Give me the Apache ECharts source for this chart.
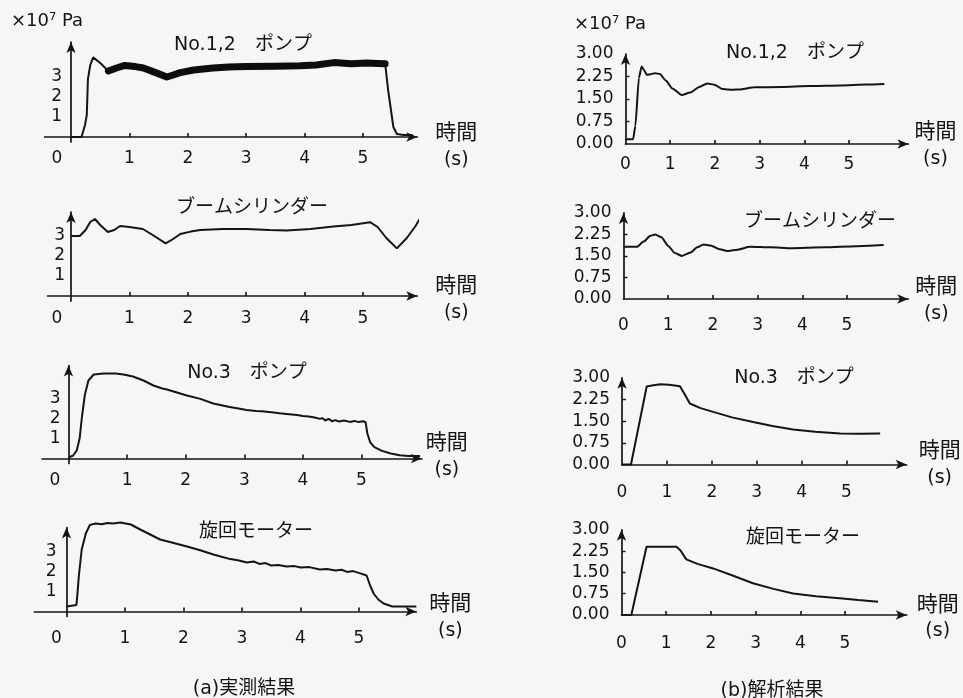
<!DOCTYPE html>
<html><head><meta charset="utf-8">
<script src="https://cdn.jsdelivr.net/npm/echarts@6/dist/echarts.min.js"></script>
<style>html,body{margin:0;padding:0;background:#f6f6f4}#c{width:963px;height:698px}</style>
</head><body><div id="c"></div>
<script>
// ---------------- data ----------------
// (a) measured results: time (s), pressure (x10^7 Pa)
const measPump12T = [0, 0.18, 0.24, 0.27, 0.29, 0.33, 0.38, 0.5, 0.64, 0.78, 0.92, 1.1, 1.24, 1.45, 1.64, 1.75, 1.87, 2.1, 2.43, 2.7, 3.0, 3.5, 3.92, 4.2, 4.5, 4.8, 5.06, 5.25, 5.38, 5.43, 5.52, 5.58, 5.7, 5.85];
const measPump12V = [0, 0, 0.6, 1.1, 2.9, 3.6, 3.98, 3.7, 3.3, 3.45, 3.58, 3.52, 3.45, 3.22, 3.0, 3.1, 3.22, 3.35, 3.45, 3.5, 3.52, 3.54, 3.56, 3.6, 3.72, 3.66, 3.7, 3.68, 3.66, 2.35, 0.5, 0.15, 0.1, 0.1];
const measBoomT = [0, 0.15, 0.25, 0.33, 0.41, 0.5, 0.63, 0.74, 0.84, 1.0, 1.23, 1.4, 1.62, 1.75, 1.87, 2.05, 2.21, 2.6, 3.0, 3.4, 3.69, 4.1, 4.49, 4.8, 5.12, 5.25, 5.4, 5.58, 5.75, 5.9, 6.0];
const measBoomV = [3.0, 3.0, 3.3, 3.7, 3.85, 3.55, 3.2, 3.3, 3.5, 3.45, 3.35, 3.05, 2.63, 2.85, 3.1, 3.22, 3.3, 3.35, 3.35, 3.3, 3.27, 3.35, 3.47, 3.55, 3.69, 3.45, 2.9, 2.38, 2.9, 3.5, 4.0];
const measPump3T = [0, 0.08, 0.14, 0.19, 0.23, 0.28, 0.34, 0.43, 0.6, 0.8, 0.94, 1.1, 1.28, 1.45, 1.6, 1.68, 1.85, 2.02, 2.25, 2.47, 2.75, 2.9, 3.04, 3.2, 3.3, 3.5, 3.6, 3.72, 3.9, 4.0, 4.1, 4.2, 4.29, 4.33, 4.38, 4.44, 4.5, 4.55, 4.62, 4.7, 4.8, 4.88, 4.95, 5.03, 5.07, 5.1, 5.15, 5.22, 5.35, 5.5, 5.65, 5.8, 6.0];
const measPump3V = [0.05, 0.15, 0.4, 1.0, 2.1, 3.2, 3.9, 4.2, 4.25, 4.25, 4.2, 4.1, 3.9, 3.65, 3.5, 3.45, 3.3, 3.15, 2.98, 2.75, 2.57, 2.5, 2.42, 2.38, 2.36, 2.3, 2.26, 2.23, 2.17, 2.12, 2.1, 2.05, 1.98, 2.02, 1.9, 1.98, 1.86, 1.92, 1.85, 1.9, 1.83, 1.88, 1.82, 1.86, 1.82, 1.25, 0.8, 0.57, 0.38, 0.25, 0.16, 0.12, 0.12];
const measSwingT = [0, 0.17, 0.19, 0.21, 0.26, 0.33, 0.4, 0.5, 0.6, 0.7, 0.8, 0.92, 1.1, 1.26, 1.43, 1.6, 1.8, 2.06, 2.3, 2.51, 2.8, 2.95, 3.08, 3.2, 3.3, 3.4, 3.5, 3.62, 3.76, 3.9, 4.0, 4.15, 4.33, 4.45, 4.6, 4.7, 4.8, 4.9, 5.01, 5.13, 5.19, 5.25, 5.33, 5.42, 5.57, 5.75, 5.98];
const measSwingV = [0.25, 0.33, 1.0, 1.75, 3.1, 3.9, 4.33, 4.4, 4.36, 4.42, 4.4, 4.45, 4.35, 4.1, 3.85, 3.6, 3.45, 3.25, 3.05, 2.85, 2.62, 2.55, 2.45, 2.5, 2.38, 2.42, 2.3, 2.33, 2.25, 2.27, 2.2, 2.22, 2.1, 2.13, 2.05, 2.09, 1.98, 2.02, 1.92, 1.8, 1.3, 0.9, 0.6, 0.4, 0.25, 0.25, 0.25];
// (b) analysis results
const simPump12T = [0, 0.17, 0.22, 0.3, 0.36, 0.42, 0.48, 0.58, 0.66, 0.77, 0.9, 1.05, 1.26, 1.45, 1.65, 1.83, 2.0, 2.17, 2.4, 2.58, 2.88, 3.5, 4.1, 4.8, 5.4, 5.79];
const simPump12V = [0.16, 0.16, 0.6, 2.2, 2.58, 2.45, 2.3, 2.33, 2.36, 2.33, 2.12, 1.85, 1.63, 1.72, 1.9, 2.02, 1.97, 1.83, 1.81, 1.82, 1.89, 1.9, 1.93, 1.95, 1.98, 2.0];
const simBoomT = [0, 0.3, 0.45, 0.6, 0.71, 0.85, 1.0, 1.15, 1.31, 1.5, 1.65, 1.79, 1.95, 2.15, 2.35, 2.55, 2.83, 3.3, 3.73, 4.5, 5.2, 5.82];
const simBoomV = [1.82, 1.82, 2.0, 2.2, 2.25, 2.15, 1.85, 1.6, 1.5, 1.62, 1.8, 1.9, 1.86, 1.73, 1.67, 1.72, 1.82, 1.8, 1.77, 1.8, 1.84, 1.88];
const simPump3T = [0, 0.2, 0.55, 0.7, 0.85, 1.05, 1.29, 1.4, 1.51, 1.75, 2.03, 2.45, 2.92, 3.35, 3.81, 4.3, 4.86, 5.3, 5.75];
const simPump3V = [0, 0, 2.7, 2.74, 2.78, 2.76, 2.71, 2.42, 2.11, 1.95, 1.82, 1.63, 1.47, 1.33, 1.21, 1.13, 1.07, 1.06, 1.07];
const simSwingT = [0, 0.22, 0.56, 0.9, 1.23, 1.32, 1.45, 1.7, 2.05, 2.5, 2.94, 3.4, 3.84, 4.35, 4.88, 5.3, 5.74];
const simSwingV = [0, 0, 2.4, 2.4, 2.4, 2.27, 1.96, 1.8, 1.64, 1.38, 1.12, 0.92, 0.76, 0.66, 0.59, 0.53, 0.47];

// thick (oscillating) band of the measured No.1,2 pump trace
const bandStart = 0.6, bandEnd = 5.4;

// ticks / labels / texts
const xTickValues = [1, 2, 3, 4, 5];
const xLabelValues = [0, 1, 2, 3, 4, 5];
const leftYLabels = [1, 2, 3];
const rightYLabels = [0, 0.75, 1.5, 2.25, 3];
const rightYTicks = [0.75, 1.5, 2.25];
const panelTitles = ['No.1,2\u3000ポンプ', 'ブームシリンダー', 'No.3\u3000ポンプ', '旋回モーター'];
const unitLabel = '×10⁷ Pa';
const axisNameTop = '時間', axisNameBottom = '(s)';
const captions = ['(a)実測結果', '(b)解析結果'];

// ---------------- layout ----------------
const FONT = "'DejaVu Sans', 'Noto Sans CJK JP', sans-serif";
const INK = '#141414';
// x0,y0: origin px; sx,sy: px per unit; gap/shift: axis-name offsets; zero: left shift of "0";
// xlm: x-label centre below axis; ylm: gap label->axis; yls: y-label vertical shift; tx,ty: title
const layout = [
  {x0:71,   y0:137,   sx:58.4, sy:20,   xmin:-0.45, xmax:5.93, ymin:-0.25, ymax:4.75, gap:17, shift:10,  zero:14,   xlm:19.5, ylm:9,  yls:0, tx:243, ty:45,  smooth:false},
  {x0:71,   y0:296,   sx:58.4, sy:20,   xmin:-0.4,  xmax:5.93, ymin:-0.25, ymax:4.2,  gap:17, shift:4,   zero:14,   xlm:20.5, ylm:6,  yls:2, tx:252, ty:208, smooth:false},
  {x0:68.5, y0:458.5, sx:58.6, sy:20,   xmin:-0.45, xmax:6.03, ymin:-0.25, ymax:4.65, gap:3,  shift:-1.5,zero:13.5, xlm:20,   ylm:8,  yls:3, tx:247, ty:373, smooth:false},
  {x0:66.5, y0:611.5, sx:58.5, sy:20,   xmin:-0.55, xmax:5.98, ymin:-0.25, ymax:4.2,  gap:12, shift:6.5, zero:10,   xlm:25,   ylm:10, yls:5, tx:256, ty:532, smooth:false},
  {x0:625.5,y0:144,   sx:44.7, sy:30,   xmin:0, xmax:6.33, ymin:0, ymax:3, gap:5,  shift:2,   zero:0, xlm:19, ylm:12, yls:0, tx:795, ty:53,  smooth:0.2},
  {x0:623.5,y0:299,   sx:44.7, sy:28.7, xmin:0, xmax:6.37, ymin:0, ymax:3, gap:6,  shift:2,   zero:0, xlm:25, ylm:12, yls:5, tx:820, ty:222, smooth:0.2},
  {x0:622,  y0:464.5, sx:44.9, sy:28.9, xmin:0, xmax:6.34, ymin:0, ymax:3, gap:11, shift:0.5, zero:0, xlm:26, ylm:12, yls:0, tx:794, ty:378, smooth:false},
  {x0:621.5,y0:615,   sx:44.7, sy:28.4, xmin:0, xmax:6.38, ymin:0, ymax:3, gap:9,  shift:3.5, zero:0, xlm:27, ylm:12, yls:1, tx:803, ty:538, smooth:false}
];
const traces = [
  [measPump12T, measPump12V], [measBoomT, measBoomV], [measPump3T, measPump3V], [measSwingT, measSwingV],
  [simPump12T, simPump12V], [simBoomT, simBoomV], [simPump3T, simPump3V], [simSwingT, simSwingV]
];
const zip = (a, b) => a.map((t, k) => [t, b[k]]);
const pad = d => d >= 0 ? [2 * d, 0, 0, 0] : [0, 0, -2 * d, 0];

const grids = [], xAxes = [], yAxes = [], series = [], graphics = [];
layout.forEach((L, i) => {
  const isLeft = i < 4;
  grids.push({
    left: L.x0 + L.xmin * L.sx, top: L.y0 - L.ymax * L.sy,
    width: (L.xmax - L.xmin) * L.sx, height: (L.ymax - L.ymin) * L.sy,
    containLabel: false, outerBoundsMode: 'none'
  });
  // labels are laid out from the grid edge, so compensate for the part of the grid beyond the origin
  const belowOrigin = -L.ymin * L.sy, leftOfOrigin = -L.xmin * L.sx;
  xAxes.push({
    type: 'value', gridIndex: i, min: L.xmin, max: L.xmax,
    axisLine: {show: true, onZero: true, symbol: ['none', 'arrow'], symbolSize: [7, 11], lineStyle: {color: INK, width: 1.7}},
    axisTick: {show: true, inside: true, length: 4, customValues: xTickValues, lineStyle: {color: INK, width: 1.6}},
    axisLabel: {
      show: true, customValues: xLabelValues, margin: L.xlm - 6.5 - belowOrigin, color: INK, fontSize: 17, fontFamily: FONT,
      formatter: v => (v === 0 && L.zero) ? '{z|0}' : String(v),
      rich: {z: {padding: [0, 2 * L.zero, 0, 0], fontSize: 17, fontFamily: FONT, color: INK}}
    },
    splitLine: {show: false},
    name: '{a|' + axisNameTop + '}\n{b|' + axisNameBottom + '}',
    nameLocation: 'end', nameGap: L.gap,
    nameTextStyle: {
      align: 'left', verticalAlign: 'middle', padding: pad(L.shift),
      rich: {
        a: {fontSize: 21, lineHeight: 26, width: 44, align: 'center', fontFamily: FONT, color: INK},
        b: {fontSize: 19, lineHeight: 26, width: 44, align: 'center', fontFamily: FONT, color: INK}
      }
    }
  });
  yAxes.push({
    type: 'value', gridIndex: i, min: L.ymin, max: L.ymax,
    axisLine: {show: true, onZero: true, symbol: ['none', 'arrow'], symbolSize: [7, 11], lineStyle: {color: INK, width: 1.7}},
    axisTick: isLeft ? {show: false} : {show: true, inside: true, length: 4, customValues: rightYTicks, lineStyle: {color: INK, width: 1.4}},
    axisLabel: {
      show: true, customValues: isLeft ? leftYLabels : rightYLabels,
      margin: L.ylm - leftOfOrigin, color: INK, fontSize: 17, fontFamily: FONT, padding: pad(L.yls),
      formatter: v => isLeft ? String(v) : v.toFixed(2)
    },
    splitLine: {show: false}
  });
  const [T, V] = traces[i];
  series.push({
    type: 'line', xAxisIndex: i, yAxisIndex: i, data: zip(T, V),
    showSymbol: false, symbol: 'none', clip: false, silent: true,
    smooth: L.smooth, smoothMonotone: 'x',
    lineStyle: {color: INK, width: 2}
  });
  if (i === 0) {
    series.push({
      type: 'line', xAxisIndex: 0, yAxisIndex: 0,
      data: zip(T, V).filter(p => p[0] >= bandStart && p[0] <= bandEnd),
      showSymbol: false, symbol: 'none', clip: false, silent: true,
      lineStyle: {color: '#0d0d0d', width: 7, cap: 'round', join: 'round'}
    });
  }
  graphics.push({
    type: 'text', x: L.tx, y: L.ty, silent: true,
    style: {text: panelTitles[i % 4], fill: INK, fontSize: 19, fontFamily: FONT, align: 'center', verticalAlign: 'middle', textAlign: 'center', textVerticalAlign: 'middle'}
  });
});
const textStyle = (text, size, align) => ({text, fill: INK, fontSize: size, fontFamily: FONT, align, verticalAlign: 'middle', textAlign: align, textVerticalAlign: 'middle'});
graphics.push(
  {type: 'text', x: 11, y: 21, silent: true, style: textStyle(unitLabel, 18, 'left')},
  {type: 'text', x: 574, y: 24, silent: true, style: textStyle(unitLabel, 18, 'left')},
  {type: 'text', x: 244, y: 689, silent: true, style: textStyle(captions[0], 19, 'center')},
  {type: 'text', x: 772, y: 691, silent: true, style: textStyle(captions[1], 19, 'center')}
);

const chart = echarts.init(document.getElementById('c'), null, {renderer: 'canvas'});
chart.setOption({
  animation: false,
  backgroundColor: '#f6f6f4',
  grid: grids, xAxis: xAxes, yAxis: yAxes, series: series,
  graphic: graphics
});
</script></body></html>
